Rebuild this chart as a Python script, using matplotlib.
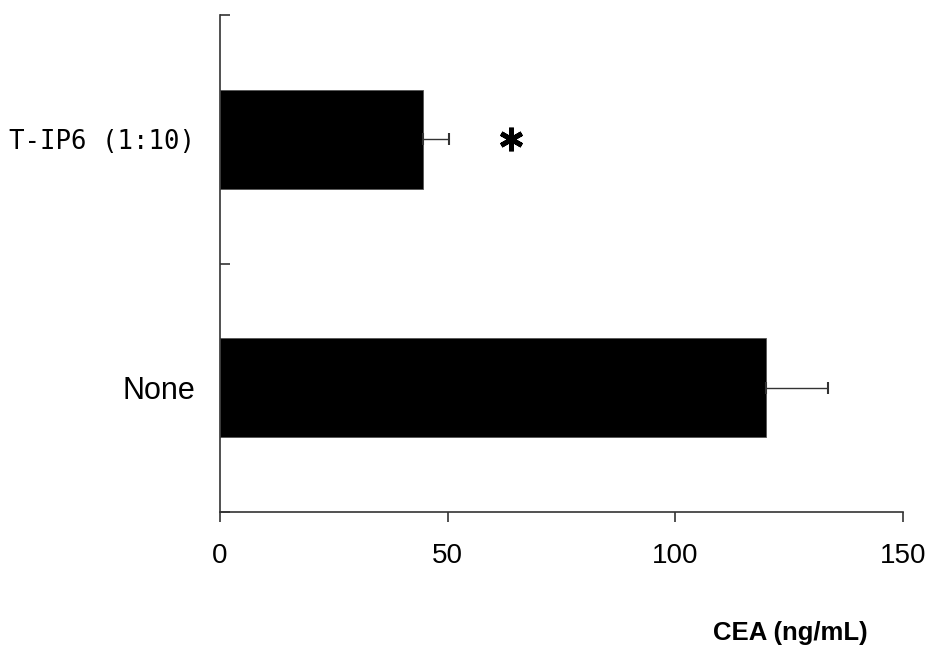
import matplotlib
matplotlib.use("Agg")
import matplotlib.pyplot as plt
import numpy as np

# data (bottom to top)
groups = ["None", "T-IP6 (1:10)"]
cea_mean = [120.0, 44.6]
cea_err = [13.5, 5.6]
significant = [False, True]
sig_x = 64

plt.rcParams["font.family"] = ["Liberation Sans", "DejaVu Sans"]

fig = plt.figure(figsize=(9.29, 6.53), dpi=100)
ax = fig.add_axes([220 / 929, 1 - 512 / 653, 683 / 929, 497 / 653])

pos = np.arange(len(groups)) + 0.5
ax.barh(pos, cea_mean, height=0.4, color="black", edgecolor="#555555", linewidth=0.6)
ax.errorbar(cea_mean, pos, xerr=[np.zeros(len(cea_err)), cea_err], fmt="none",
            ecolor="#333333", elinewidth=1.0, capsize=4.5, capthick=1.5)

for p, s in zip(pos, significant):
    if s:
        ax.plot([sig_x], [p], marker=(6, 2, 0), markersize=17,
                markeredgewidth=3.5, color="black", linestyle="none")

ax.set_xlim(0, 150)
ax.set_ylim(0, len(groups))
ax.set_xticks([0, 50, 100, 150])
ax.set_yticks([0, 1, 2])
ax.set_yticklabels([])
ax.set_yticks(pos, minor=True)
ax.set_yticklabels(groups, minor=True, fontsize=22)
# the treatment label is set in a wide, evenly spaced face in the original
for lab in ax.get_yticklabels(minor=True):
    if lab.get_text() != "None":
        lab.set_fontfamily(["DejaVu Sans Mono", "DejaVu Sans"])
        lab.set_fontsize(18.5)
ax.tick_params(axis="y", which="major", direction="in", length=7, width=1.2, color="#333333")
ax.tick_params(axis="y", which="minor", length=0, pad=18)
ax.tick_params(axis="x", direction="out", length=7, width=1.2, color="#333333",
               labelsize=20, pad=15)

for side in ["top", "right"]:
    ax.spines[side].set_visible(False)
for side in ["left", "bottom"]:
    ax.spines[side].set_linewidth(1.2)
    ax.spines[side].set_color("#333333")

ax.set_xlabel("CEA (ng/mL)", fontsize=18.5, fontweight="bold", va="center")
ax.xaxis.set_label_coords((790 - 220) / 683, (512 - 633) / 497)

fig.savefig("out.png", dpi=100, facecolor="white")
